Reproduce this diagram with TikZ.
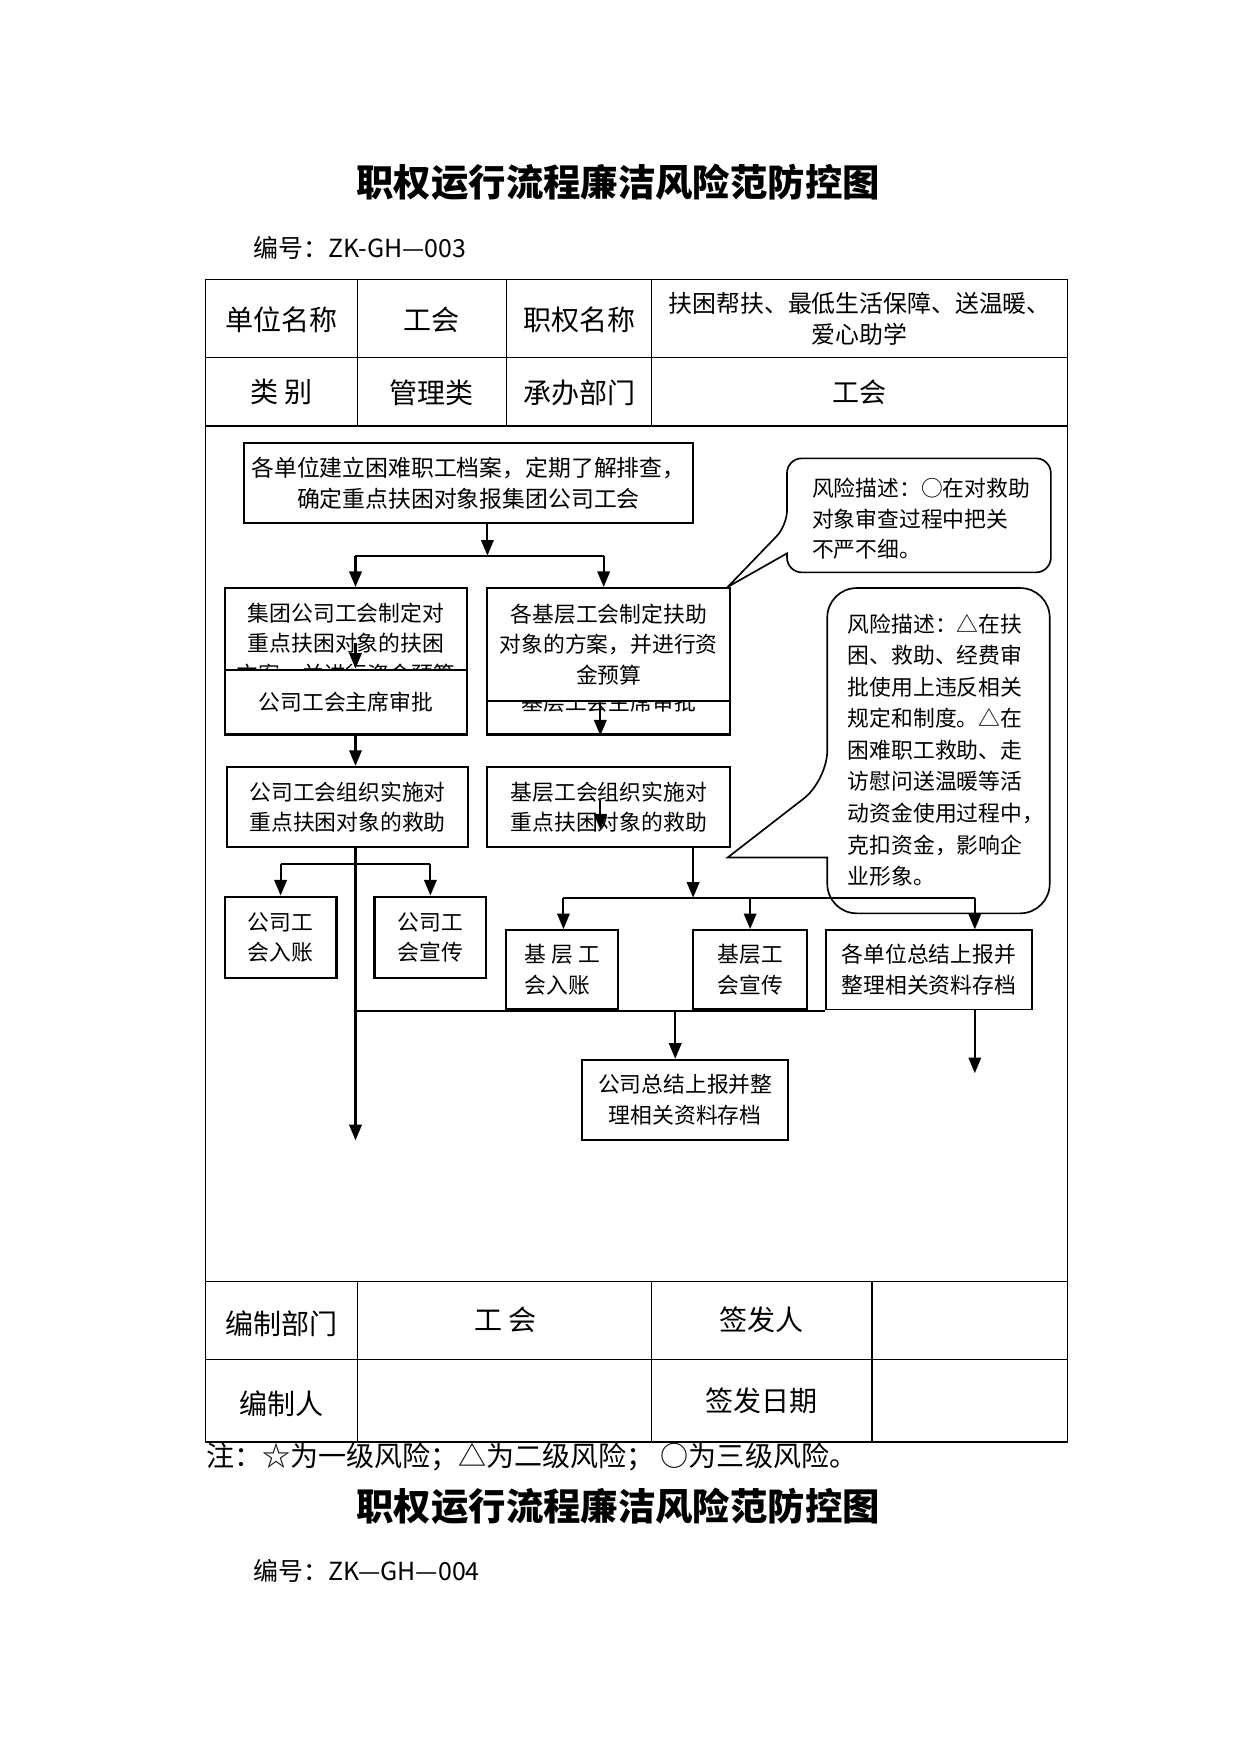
\documentclass[tikz,border=0pt]{standalone}
\usepackage{fontspec}
\setmainfont{Noto Sans CJK SC}
\usetikzlibrary{arrows.meta, positioning, calc}

\newcommand{\pu}{0.01892cm}

\begin{document}
\begin{tikzpicture}[x=0.01892cm, y=-0.01892cm,
  grid/.style={line width=0.6pt},
  cell/.style={inner sep=0pt, font=\fontsize{13.5}{16}\selectfont},
  boxsize/.style 2 args={minimum width=#1*\pu, minimum height=#2*\pu},
  flowbox/.style={draw, line width=1pt, fill=white, align=center, inner sep=0pt,
    font=\fontsize{10.5}{14.8}\selectfont},
  riskbox/.style={draw, line width=0.8pt, fill=white},
  risktext/.style={align=left, inner sep=0pt, font=\fontsize{10.5}{14.6}\selectfont},
  link/.style={line width=1pt},
  arr/.style={line width=1pt, -{Triangle[length=7.5pt,width=6pt]}}]

  \useasboundingbox (0,0) rectangle (1110,1569);

  % Heading
  \node[font=\fontsize{18}{22}\selectfont\bfseries] (title) at (553,163) {职权运行流程廉洁风险范防控图};
  \node[anchor=west, font=\fontsize{12}{15}\selectfont] (code) at (220,222) {编号：ZK-GH—003};

  % Table frame
  \draw[grid] (184,250) rectangle (955,1290);
  \foreach \y in {320,381,1146,1216}
    \draw[grid] (184,\y) -- (955,\y);
  \foreach \x in {320,453,583}
    \draw[grid] (\x,250) -- (\x,381);
  \foreach \x in {320,583,780}
    \draw[grid] (\x,1146) -- (\x,1290);

  % Table texts
  \node[cell] (unitlabel) at (252,286) {单位名称};
  \node[cell] (unit) at (386,286) {工会};
  \node[cell] (dutylabel) at (518,286) {职权名称};
  \node[align=center, inner sep=0pt, font=\fontsize{11.5}{15}\selectfont] (duty) at (769,285)
    {扶困帮扶、最低生活保障、送温暖、\\爱心助学};
  \node[cell] (kindlabel) at (252,351) {类 别};
  \node[cell] (kind) at (386,351) {管理类};
  \node[cell] (deptlabel) at (518,351) {承办部门};
  \node[cell, font=\fontsize{13}{15}\selectfont] (dept) at (769,351) {工会};
  \node[cell] (makerdeptlabel) at (252,1184) {编制部门};
  \node[cell] (makerdept) at (452,1181) {工 会};
  \node[cell] (signerlabel) at (681,1181) {签发人};
  \node[cell] (makerlabel) at (252,1256) {编制人};
  \node[cell] (datelabel) at (681,1253) {签发日期};

  % Risk notes
  \draw[riskbox] (704,495) {[rounded corners=0.25cm] -- (704,512) -- (940,512)
    -- (940,410) -- (704,410) -- (704,470)} -- (651,525) -- cycle;
  \node[risktext, anchor=west] (risk1) at (726,464)
    {风险描述：○在对救助\\对象审查过程中把关\\不严不细。};
  \draw[riskbox] (740,767) {[rounded corners=0.5cm] -- (740,817) -- (939,817)
    -- (939,526) -- (740,526) -- (740,698)} -- (651,767) -- cycle;
  \node[risktext, anchor=west, font=\fontsize{10.5}{15.2}\selectfont] (risk2) at (758,671)
    {风险描述：△在扶\\困、救助、经费审\\批使用上违反相关\\规定和制度。△在\\困难职工救助、走\\访慰问送温暖等活\\动资金使用过程中，\\克扣资金，影响企\\业形象。};

  % Flow boxes
  \node[flowbox, boxsize={402}{72}, font=\fontsize{11}{15}\selectfont] (survey) at (419,432)
    {各单位建立困难职工档案，定期了解排查，\\确定重点扶困对象报集团公司工会};
  \node[flowbox, boxsize={217}{100}] (groupplan) at (309.5,576)
    {集团公司工会制定对\\重点扶困对象的扶困\\方案，并进行资金预算};
  \node[flowbox, boxsize={217}{58}] (groupok) at (309.5,628) {公司工会主席审批};
  \node[flowbox, boxsize={217}{58}] (baseok) at (544.5,628) {基层工会主席审批};
  \node[flowbox, boxsize={217}{101}] (baseplan) at (544.5,576.5)
    {各基层工会制定扶助\\对象的方案，并进行资\\金预算};
  \node[flowbox, boxsize={216}{72}] (grouphelp) at (311,722)
    {公司工会组织实施对\\重点扶困对象的救助};
  \node[flowbox, boxsize={217}{72}] (basehelp) at (544.5,722)
    {基层工会组织实施对\\重点扶困对象的救助};
  \node[flowbox, boxsize={100}{73}] (groupbook) at (251,838.5) {公司工\\会入账};
  \node[flowbox, boxsize={100}{73}] (grouppub) at (385,838.5) {公司工\\会宣传};
  \node[flowbox, boxsize={100}{71}, align=left] (basebook) at (503,867.5) {基 层 工\\会入账};
  \node[flowbox, boxsize={102}{71}] (basepub) at (671,867.5) {基层工\\会宣传};
  \node[flowbox, boxsize={184}{71}, line width=0.7pt] (sumall) at (831,867.5)
    {各单位总结上报并\\整理相关资料存档};
  \node[flowbox, boxsize={184}{72}] (groupsum) at (613,984)
    {公司总结上报并整\\理相关资料存档};

  % Branch points
  \coordinate (split) at (436,497);
  \coordinate (splitL) at (318,497);
  \coordinate (splitR) at (540,497);
  \coordinate (midL) at (318,575);
  \coordinate (colR) at (537,640);
  \coordinate (endL) at (318,1020);
  \coordinate (fanL) at (251,773);
  \coordinate (fanR) at (385,773);
  \coordinate (hintA) at (537,716);
  \coordinate (hintB) at (537,742);
  \coordinate (fanC) at (620,803);
  \coordinate (fanD) at (504,803);
  \coordinate (fanE) at (872,803);
  \coordinate (joinL) at (318,904);
  \coordinate (joinC) at (604,904);
  \coordinate (endR) at (872,960);

  % Connectors
  \draw[arr] (survey.south -| split) -- (split);
  \draw[link] (splitL) -- (splitR);
  \draw[arr] (splitL) -- (splitL |- groupplan.north);
  \draw[arr] (splitR) -- (splitR |- baseplan.north);
  \draw[arr] (midL) -- (midL |- groupok.north);
  \draw[arr] (baseplan.south -| colR) -- (baseok.south -| colR);
  \draw[arr] (groupok.south -| midL) -- (grouphelp.north -| midL);
  \draw[arr] (grouphelp.south -| endL) -- (endL);
  \draw[link] (fanL) -- (fanR);
  \draw[arr] (fanL) -- (groupbook.north);
  \draw[arr] (fanR) -- (grouppub.north);
  \draw[arr] (hintA) -- (hintB);
  \draw[arr] (basehelp.south -| fanC) -- (fanC);
  \draw[link] (fanD) -- (fanE);
  \draw[arr] (fanD) -- (fanD |- basebook.north);
  \draw[arr] (basepub.north |- fanD) -- (basepub.north);
  \draw[arr] (fanE) -- (fanE |- sumall.north);
  \draw[link] (joinL) -- (joinL -| sumall.west);
  \draw[arr] (joinC) -- (joinC |- groupsum.north);
  \draw[arr] (sumall.south -| endR) -- (endR);

  % Legend and next sheet
  \node[anchor=west, inner sep=0pt, font=\fontsize{13.5}{15}\selectfont] (legend) at (184,1303)
    {注：☆为一级风险；△为二级风险； ○为三级风险。};
  \node[font=\fontsize{18}{22}\selectfont\bfseries] (title2) at (553,1347) {职权运行流程廉洁风险范防控图};
  \node[anchor=west, font=\fontsize{12}{15}\selectfont] (code2) at (220,1405) {编号：ZK—GH—004};
\end{tikzpicture}
\end{document}
